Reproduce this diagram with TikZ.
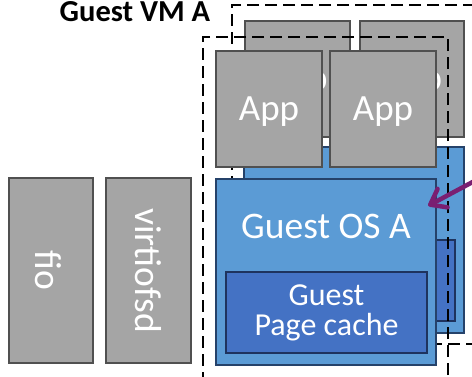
\documentclass[tikz,border=0pt]{standalone}
\usepackage{fontspec}
\setmainfont{Carlito}
\usetikzlibrary{arrows.meta}

\definecolor{boxgray}{HTML}{A5A5A5}
\definecolor{edgegray}{HTML}{505050}
\definecolor{osblue}{HTML}{5B9BD5}
\definecolor{osedge}{HTML}{25426A}
\definecolor{cacheblue}{HTML}{4472C4}
\definecolor{cacheedge}{HTML}{1E335E}
\definecolor{arrowpurple}{HTML}{7A1F72}

\begin{document}
\begin{tikzpicture}[x=1pt,y=-1pt,
  appbox/.style={draw=edgegray, fill=boxgray, line width=2.5pt, inner sep=0pt,
    minimum height=116pt, text=white, font=\fontsize{37}{37}\selectfont, text depth=0pt},
  procbox/.style={draw=edgegray, fill=boxgray, line width=2.5pt, inner sep=0pt,
    minimum height=185pt},
  proclabel/.style={rotate=-90, text=white, inner sep=0pt,
    font=\fontsize{37.5}{37.5}\selectfont},
  osbox/.style={draw=osedge, fill=osblue, line width=2.5pt, inner sep=0pt,
    minimum width=220pt, minimum height=186pt},
  oslabel/.style={text=white, inner sep=0pt, font=\fontsize{37.5}{37.5}\selectfont},
  cachebox/.style={draw=cacheedge, fill=cacheblue, line width=2.5pt, inner sep=0pt,
    minimum width=201pt, minimum height=81pt, text=white, align=center,
    font=\fontsize{32}{30}\selectfont},
  vmframe/.style={draw=black, line width=2pt, dash pattern=on 12pt off 6pt,
    inner sep=0pt},
  titlelabel/.style={font=\fontsize{30.5}{30.5}\selectfont\bfseries, inner sep=0pt}
]
\useasboundingbox (0,0) rectangle (472,376);

% second guest VM, behind
\node[vmframe, minimum width=258pt, minimum height=339pt] (vmB) at (361,174.5) {};
\node[appbox, minimum width=105pt] (appB1) at (297.5,79) {App};
\node[appbox, minimum width=104pt] (appB2) at (412,79) {App};
\node[osbox] (osB) at (354,240) {};
\node[cachebox] (cacheB) at (354.5,280.5) {};

% guest VM A, in front
\node[vmframe, minimum width=245pt, minimum height=363pt] (vmA) at (325.5,218.5) {};
\node[appbox, minimum width=106pt] (appA1) at (269,109) {App};
\node[appbox, minimum width=106pt] (appA2) at (383,109) {App};
\node[osbox] (osA) at (326,272) {};
\node[oslabel] (osAlbl) at ([yshift=46pt]osA.center) {Guest OS A};
\node[cachebox] (cacheA) at (326.5,312.5) {Guest\\Page cache};

% host processes
\node[procbox, minimum width=84pt] (fio) at (51,270.5) {};
\node[proclabel] (fiolbl) at ([xshift=-3pt]fio.center) {fio};
\node[procbox, minimum width=85pt] (vfsd) at (148.5,270.5) {};
\node[proclabel] (vfsdlbl) at (vfsd.center) {virtiofsd};

% title
\node[titlelabel, anchor=base] (title) at (135,21.5) {Guest VM A};

% pointer into the guest OS
\coordinate (arrowtip) at ([xshift=-9pt,yshift=-28pt]osA.north east);
\coordinate (arrowtail) at (482,177);
\draw[arrowpurple, line width=4.5pt, line cap=round,
  -{Straight Barb[length=14pt,width=21pt,round]}] (arrowtail) -- (arrowtip);
\end{tikzpicture}
\end{document}
